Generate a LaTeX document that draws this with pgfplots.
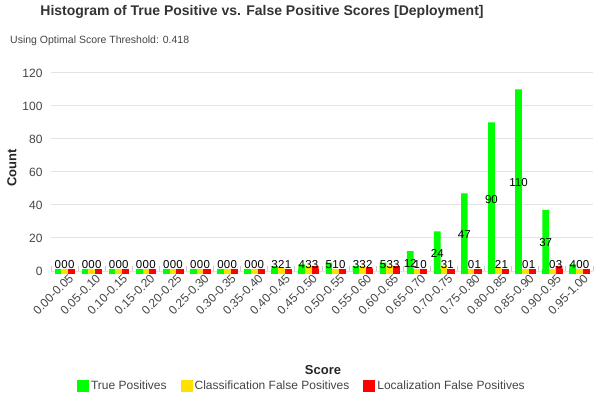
\documentclass[border=0pt]{standalone}
\usepackage{fontspec}
\setmainfont{Liberation Sans}
\usepackage{pgfplots}
\pgfplotsset{compat=1.18}
\usepackage{pgfplotstable}

\definecolor{tpgreen}{HTML}{00FF00}
\definecolor{cfpyellow}{HTML}{FFE000}
\definecolor{lfpred}{HTML}{FF0000}
\definecolor{txtgray}{HTML}{444444}
\definecolor{gridgray}{HTML}{E3E3E3}
\definecolor{tickgray}{HTML}{CCCCCC}

% bin index, true positives, classification FP, localization FP
\pgfplotstableread{
x  tp  cfp lfp
0  0   0   0
1  0   0   0
2  0   0   0
3  0   0   0
4  0   0   0
5  0   0   0
6  0   0   0
7  0   0   0
8  3   2   1
9  4   3   3
10 5   1   0
11 3   3   2
12 5   3   3
13 12  1   0
14 24  3   1
15 47  0   1
16 90  2   1
17 110 0   1
18 37  0   3
19 4   0   0
}\hist

\newcommand{\fs}[1]{\fontsize{#1bp}{#1bp}\selectfont}

\begin{document}
\begin{tikzpicture}
\useasboundingbox (0,0) rectangle (603bp,400bp);
\begin{axis}[
    at={(51bp,129bp)}, anchor=south west,
    scale only axis, width=542bp, height=198bp,
    xmin=-0.5, xmax=19.5, ymin=0, ymax=120,
    ytick={0,20,...,120},
    xtick={0,...,19},
    xticklabels={0.00-0.05,0.05-0.10,0.10-0.15,0.15-0.20,0.20-0.25,0.25-0.30,0.30-0.35,0.35-0.40,0.40-0.45,0.45-0.50,0.50-0.55,0.55-0.60,0.60-0.65,0.65-0.70,0.70-0.75,0.75-0.80,0.80-0.85,0.85-0.90,0.90-0.95,0.95-1.00},
    minor xtick={-0.5,0.5,...,19.5},
    major tick length=0pt, minor tick length=5bp,
    tick style={tickgray, line width=1bp},
    tick pos=left,
    ymajorgrids, grid style={gridgray, line width=1bp},
    axis line style={draw=none},
    clip=false,
    /pgf/number format/assume math mode=true,
    ticklabel style={font=\fs{12}, text=txtgray},
    yticklabel style={xshift=-5bp},
    xticklabel style={rotate=45, anchor=north east, inner sep=1bp, yshift=-3bp, xshift=2bp},
    legend style={at={(0.463,-0.581)}, anchor=center, draw=none, fill=none,
        legend columns=3, font=\fs{12}, text=txtgray,
        /tikz/every even column/.append style={column sep=12bp}},
    every node near coord/.style={font=\fs{11.5}, text=black, inner sep=0pt},
]
\addplot[ybar, bar width=6.7bp, bar shift=-6.7bp, fill=tpgreen, draw=none,
    legend image code/.code={\fill[tpgreen] (0bp,-6bp) rectangle (12bp,6bp);}]
    table[x=x, y=tp] {\hist};
\addlegendentry{True Positives}
\addplot[ybar, bar width=6.7bp, bar shift=0bp, fill=cfpyellow, draw=none,
    legend image code/.code={\fill[cfpyellow] (0bp,-6bp) rectangle (12bp,6bp);}]
    table[x=x, y=cfp] {\hist};
\addlegendentry{Classification False Positives}
\addplot[ybar, bar width=6.7bp, bar shift=6.7bp, fill=lfpred, draw=none,
    legend image code/.code={\fill[lfpred] (0bp,-6bp) rectangle (12bp,6bp);}]
    table[x=x, y=lfp] {\hist};
\addlegendentry{Localization False Positives}

% minimum visible bar height at the baseline
\addplot[only marks, forget plot, color=tpgreen, mark=square*, mark size=3.1bp,
    mark options={yscale=0.55, solid, fill=tpgreen, draw=tpgreen}]
    table[x expr=\thisrow{x}-0.247, y expr=0] {\hist};
\addplot[only marks, forget plot, color=cfpyellow, mark=square*, mark size=3.1bp,
    mark options={yscale=0.55, solid, fill=cfpyellow, draw=cfpyellow}]
    table[x=x, y expr=0] {\hist};
\addplot[only marks, forget plot, color=lfpred, mark=square*, mark size=3.1bp,
    mark options={yscale=0.55, solid, fill=lfpred, draw=lfpred}]
    table[x expr=\thisrow{x}+0.247, y expr=0] {\hist};

% value labels
\addplot[draw=none, mark=none, forget plot, nodes near coords, nodes near coords align=center,
    point meta=explicit symbolic]
    table[x expr=\thisrow{x}-0.247, y expr={max(\thisrow{tp}/2-1.5,4)}, meta=tp] {\hist};
\addplot[draw=none, mark=none, forget plot, nodes near coords, nodes near coords align=center,
    point meta=explicit symbolic]
    table[x=x, y expr={max(\thisrow{cfp}/2-1.5,4)}, meta=cfp] {\hist};
\addplot[draw=none, mark=none, forget plot, nodes near coords, nodes near coords align=center,
    point meta=explicit symbolic]
    table[x expr=\thisrow{x}+0.247, y expr={max(\thisrow{lfp}/2-1.5,4)}, meta=lfp] {\hist};
\end{axis}

\node[font=\fs{14}\bfseries, text=black!80] at (262bp,388bp) {Histogram of True Positive vs. False Positive Scores [Deployment]};
\node[font=\fs{10.5}, text=txtgray, anchor=west, inner sep=0pt] at (10bp,359bp) {Using Optimal Score Threshold: 0.418};
\node[font=\fs{13}\bfseries, text=black!85] at (323bp,30bp) {Score};
\node[font=\fs{13}\bfseries, text=black!85, rotate=90] at (12bp,232bp) {Count};
\end{tikzpicture}
\end{document}
